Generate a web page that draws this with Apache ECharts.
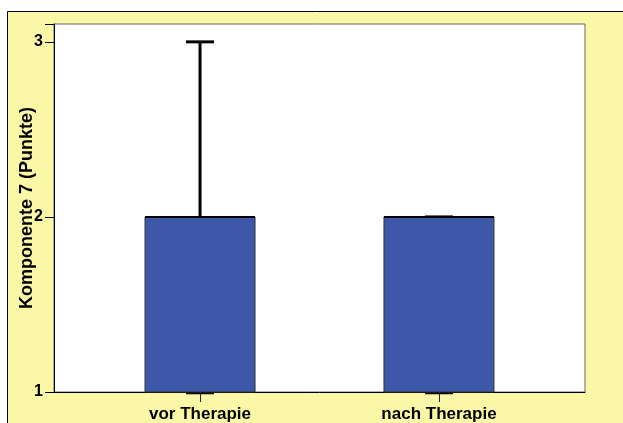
<!DOCTYPE html>
<html>
<head>
<meta charset="utf-8">
<script src="https://cdn.jsdelivr.net/npm/echarts@6/dist/echarts.min.js"></script>
<style>html,body{margin:0;padding:0;background:#fff;}#c{width:623px;height:423px;}</style>
</head>
<body>
<div id="c"></div>
<script>
// ---- data ----
const categories = ['vor Therapie', 'nach Therapie'];
const minValues    = [1, 1];
const q1Values     = [1, 1];
const medianValues = [2, 2];
const q3Values     = [2, 2];
const maxValues    = [3, 2];
const yTicks = [1, 2, 3];
const yTitle = 'Komponente 7 (Punkte)';

// ---- layout: place the two groups in a 20-slot band axis ----
const SLOTS = 20;
const slotOf = [5, 14];
const slotNames = new Array(SLOTS).fill('');
categories.forEach((c, i) => { slotNames[slotOf[i]] = c; });
const seriesData = categories.map((c, i) => [slotOf[i], minValues[i], q1Values[i], medianValues[i], q3Values[i], maxValues[i]]);

const FONT = '"Liberation Sans", Arial, sans-serif';
const chart = echarts.init(document.getElementById('c'), null, {renderer: 'canvas'});
chart.setOption({
  backgroundColor: '#ffffff',
  animation: false,
  graphic: {elements: [{
    type: 'rect', z: -100, silent: true,
    shape: {x: 7.5, y: 11.5, width: 700, height: 500},
    style: {fill: '#FAF8A6', stroke: '#000', lineWidth: 1}
  }]},
  grid: {left: 54, right: 38, top: 24, bottom: 29, show: true, backgroundColor: '#fff', borderColor: '#666', borderWidth: 1},
  xAxis: {
    type: 'category', data: slotNames, boundaryGap: true,
    axisLine: {lineStyle: {color: '#000', width: 1}},
    axisTick: {show: true, alignWithLabel: true, length: 10, interval: (idx) => slotNames[idx] !== '', lineStyle: {color: '#222', width: 1}},
    axisLabel: {interval: 0, margin: 14, color: '#000', fontFamily: FONT, fontWeight: 'bold', fontSize: 17},
    splitLine: {show: false}
  },
  yAxis: {
    type: 'value', min: yTicks[0], max: 3.102, interval: 1,
    name: yTitle, nameLocation: 'middle', nameGap: 18, nameMoveOverlap: false,
    nameTextStyle: {color: '#000', fontFamily: FONT, fontWeight: 'bold', fontSize: 18},
    axisLine: {show: true, lineStyle: {color: '#000', width: 1}},
    axisTick: {show: true, length: 9, lineStyle: {color: '#000'}},
    axisLabel: {color: '#000', fontFamily: FONT, fontWeight: 'bold', fontSize: 16, margin: 11,
      formatter: (v) => (yTicks.indexOf(v) >= 0 ? String(v) : '')},
    splitLine: {show: false}
  },
  series: [{
    type: 'custom',
    data: seriesData,
    encode: {x: 0, y: [1, 2, 3, 4, 5]},
    renderItem: function (params, api) {
      const i = api.value(0);
      const x = api.coord([i, api.value(3)])[0];
      const yMin = api.coord([i, api.value(1)])[1];
      const yQ1 = api.coord([i, api.value(2)])[1];
      const yMed = api.coord([i, api.value(3)])[1];
      const yQ3 = api.coord([i, api.value(4)])[1];
      const yMax = api.coord([i, api.value(5)])[1];
      const hw = 55, cw = 14;
      const children = [];
      if (api.value(5) > api.value(4)) {
        children.push({type: 'line', shape: {x1: x, y1: yQ3, x2: x, y2: yMax}, style: {stroke: '#000', lineWidth: 3}});
      }
      children.push({type: 'line', shape: {x1: x - cw, y1: yMax, x2: x + cw, y2: yMax}, style: {stroke: '#000', lineWidth: 3}});
      children.push({type: 'line', shape: {x1: x - cw, y1: yMin + 1, x2: x + cw, y2: yMin + 1}, style: {stroke: '#000', lineWidth: 2.5}});
      children.push({type: 'rect', shape: {x: x - hw, y: yQ3, width: 2 * hw, height: yQ1 - yQ3}, style: {fill: '#3D58A9', stroke: '#333', lineWidth: 1}});
      children.push({type: 'line', shape: {x1: x - hw, y1: yMed, x2: x + hw, y2: yMed}, style: {stroke: '#000', lineWidth: 2}});
      return {type: 'group', children: children};
    }
  }]
});
</script>
</body>
</html>
